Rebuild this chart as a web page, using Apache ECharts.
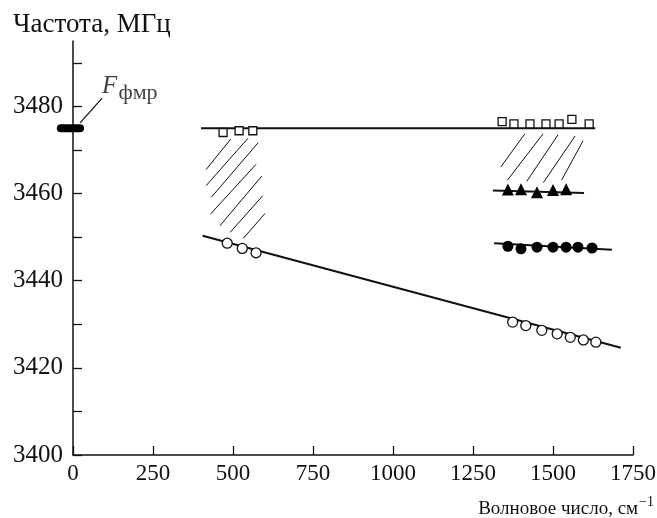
<!DOCTYPE html>
<html>
<head>
<meta charset="utf-8">
<script src="https://cdn.jsdelivr.net/npm/echarts@6/dist/echarts.min.js"></script>
<style>
  html, body { margin: 0; padding: 0; background: #fff; }
  #chart { width: 657px; height: 518px; }
</style>
</head>
<body>
<div id="chart"></div>
<script>
// ticks
const xTicks = [0, 250, 500, 750, 1000, 1250, 1500, 1750];
const yTicks = [3400, 3410, 3420, 3430, 3440, 3450, 3460, 3470, 3480, 3490];
const yLabels = [3400, 3420, 3440, 3460, 3480];

// FMR marker on the axis
const fmrBar = [[-38, 3475], [22, 3475]];
const fmrLeader = [[22, 3476.2], [91, 3481.9]];

// open squares
const squares = [
  [469, 3474.0], [519, 3474.4], [562, 3474.4],
  [1341, 3476.5], [1378, 3476.0], [1428, 3476.0], [1478, 3476.0],
  [1519, 3476.0], [1559, 3477.0], [1613, 3476.0]
];
const squaresLine = [[400, 3475], [1632, 3475]];

// filled triangles
const triangles = [[1359, 3460.9], [1400, 3461.0], [1450, 3460.3], [1500, 3460.8], [1541, 3461.0]];
const trianglesLine = [[1312, 3460.7], [1597, 3460.1]];

// filled circles
const dots = [[1359, 3447.9], [1400, 3447.3], [1450, 3447.7], [1500, 3447.7], [1541, 3447.7], [1578, 3447.7], [1622, 3447.5]];
const dotsLine = [[1316, 3448.6], [1684, 3447.1]];

// open circles
const rings = [
  [482, 3448.6], [529, 3447.4], [572, 3446.4],
  [1374, 3430.5], [1415, 3429.7], [1465, 3428.6], [1513, 3427.8],
  [1554, 3427.0], [1595, 3426.4], [1634, 3425.9]
];
const ringsLine = [[405, 3450.3], [1712, 3424.6]];

// hatching strokes [x1, y1, x2, y2]
const hatch = [
  [493, 3472.5, 416, 3465.5],
  [547, 3472.7, 416, 3461.8],
  [579, 3471.7, 433, 3459.2],
  [572, 3466.7, 430, 3455.3],
  [590, 3464.0, 459, 3452.6],
  [593, 3459.5, 491, 3451.1],
  [600, 3455.4, 532, 3449.7],
  [1412, 3473.7, 1337, 3466.1],
  [1469, 3473.7, 1358, 3463.1],
  [1516, 3473.5, 1418, 3462.8],
  [1569, 3473.2, 1470, 3462.5],
  [1594, 3472.1, 1527, 3463.1]
];

const serif = 'Liberation Serif';
const ink = '#111';

function fitLine(data, w) {
  return {
    type: 'line', data: data, symbol: 'none', silent: true, z: 2,
    lineStyle: { color: ink, width: w || 2 }
  };
}

function marks(data, symbol, size, filled) {
  return {
    type: 'scatter', data: data, symbol: symbol, symbolSize: size, z: 4, silent: true,
    itemStyle: filled
      ? { color: '#000', opacity: 1 }
      : { color: '#fff', borderColor: ink, borderWidth: 1.3, opacity: 1 }
  };
}

let chart = echarts.init(document.getElementById('chart'));
chart.setOption({
  animation: false,
  backgroundColor: '#fff',
  textStyle: { fontFamily: serif, color: ink },
  title: [
    {
      text: 'Частота, МГц', left: 13, top: 11, padding: 0,
      textStyle: { fontFamily: serif, fontSize: 27, fontWeight: 'normal', color: ink }
    },
    {
      text: '{a|Волновое число, см}{b|−1}', right: 3, bottom: 0, padding: 0,
      textStyle: {
        fontFamily: serif, fontWeight: 'normal', color: ink,
        rich: {
          a: { fontFamily: serif, fontSize: 19, color: ink, lineHeight: 26, padding: [6, 0, 0, 0] },
          b: { fontFamily: serif, fontSize: 14, color: ink, lineHeight: 26, padding: [0, 0, 8, 1] }
        }
      }
    }
  ],
  grid: { left: 73, right: 24, top: 41, bottom: 63, outerBoundsMode: 'none' },
  xAxis: {
    type: 'value', min: 0, max: 1750, interval: 250,
    splitLine: { show: false },
    axisLine: { lineStyle: { color: ink, width: 1.5 } },
    axisTick: { inside: true, length: 9, lineStyle: { color: ink, width: 1.3 }, customValues: xTicks },
    axisLabel: { fontFamily: serif, fontSize: 23, color: ink, margin: 7, customValues: xTicks, formatter: v => String(v) }
  },
  yAxis: {
    type: 'value', min: 3400, max: 3495, interval: 10,
    splitLine: { show: false },
    axisLine: { show: true, lineStyle: { color: ink, width: 1.5 } },
    axisTick: { show: true, inside: true, length: 9, lineStyle: { color: ink, width: 1.3 }, customValues: yTicks },
    axisLabel: { fontFamily: serif, fontSize: 25, color: ink, margin: 10, customValues: yLabels, formatter: v => String(v) }
  },
  series: [
    {
      // thick F_fmr bar, partly left of the axis
      type: 'custom', data: [fmrBar[0].concat(fmrBar[1])], z: 5, silent: true, clip: false,
      renderItem: function (params, api) {
        const o = api.coord([0, api.value(1)]);
        const k = api.size([1, 0])[0];
        return {
          type: 'line',
          shape: { x1: o[0] + api.value(0) * k, y1: o[1], x2: o[0] + api.value(2) * k, y2: o[1] },
          style: { stroke: '#000', lineWidth: 8, lineCap: 'round' }
        };
      },
      encode: { x: [0, 2], y: 1 }
    },
    {
      type: 'line', data: fmrLeader, symbol: 'none', clip: false, z: 5, silent: true,
      lineStyle: { color: ink, width: 1.2 }
    },
    {
      type: 'scatter', data: [fmrLeader[1]], symbolSize: 0, clip: false, z: 6, silent: true,
      label: {
        show: true, position: 'right', distance: 0, offset: [0, -9],
        formatter: '{f|F}{s|фмр}',
        rich: {
          f: { fontFamily: serif, fontStyle: 'italic', fontSize: 25, color: ink, lineHeight: 30, padding: [0, 1, 6, 0] },
          s: { fontFamily: serif, fontSize: 22, color: ink, lineHeight: 30, padding: [8, 0, 0, 0] }
        }
      }
    },
    {
      type: 'lines', coordinateSystem: 'cartesian2d', silent: true, z: 1,
      data: hatch.map(h => ({ coords: [[h[0], h[1]], [h[2], h[3]]] })),
      lineStyle: { color: ink, width: 1, opacity: 1 }
    },
    fitLine(squaresLine, 2),
    fitLine(trianglesLine, 2),
    fitLine(dotsLine, 2),
    fitLine(ringsLine, 2),
    marks(squares, 'rect', 8, false),
    marks(triangles, 'triangle', 12, true),
    marks(dots, 'circle', 11, true),
    marks(rings, 'circle', 10, false)
  ]
});
</script>
</body>
</html>
